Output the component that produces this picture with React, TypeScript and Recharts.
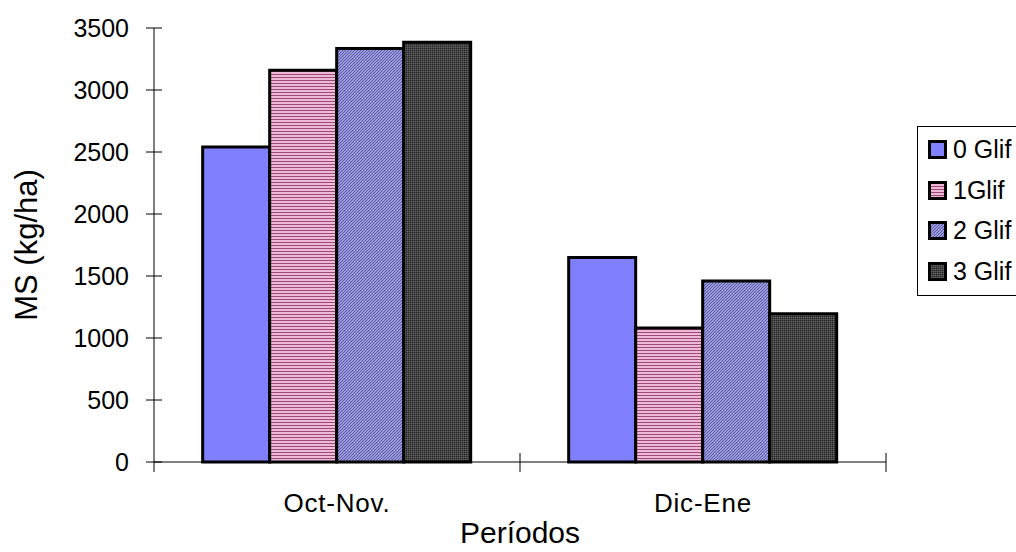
import React from "react";
import { BarChart, Bar, XAxis, YAxis } from "recharts";

const categories = ["Oct-Nov.", "Dic-Ene"];
const glif0 = [2540, 1650];
const glif1 = [3160, 1080];
const glif2 = [3335, 1460];
const glif3 = [3385, 1195];
const yTicks = [0, 500, 1000, 1500, 2000, 2500, 3000, 3500];
const seriesNames = ["0 Glif", "1Glif", "2 Glif", "3 Glif"];

const data = categories.map((c, i) => ({
  name: c,
  g0: glif0[i],
  g1: glif1[i],
  g2: glif2[i],
  g3: glif3[i],
}));

const fills = ["#8080FF", "url(#pStripe)", "url(#pDiag)", "url(#pDark)"];
const keys = ["g0", "g1", "g2", "g3"];

const FONT = "'Liberation Sans', Arial, sans-serif";
const W = 1016;
const H = 552;
const PLOT_LEFT = 154;
const PLOT_RIGHT = 886;
const PLOT_TOP = 28;
const PLOT_BOTTOM = 462;

const YTick = (props: any) => {
  const { y, payload } = props;
  const ax = PLOT_LEFT;
  return (
    <g>
      <line x1={ax - 8} x2={ax + 8} y1={y} y2={y} stroke="#000" strokeWidth={1} />
      <text x={ax - 25} y={y} dy={9} textAnchor="end" fontSize={25} fontFamily={FONT} fill="#000">
        {payload.value}
      </text>
    </g>
  );
};

const XTick = (props: any) => {
  const { x, payload, index } = props;
  const band = (PLOT_RIGHT - PLOT_LEFT) / categories.length;
  const axisY = PLOT_BOTTOM;
  return (
    <g>
      {index === 0 && (
        <line x1={x - band / 2} x2={x - band / 2} y1={axisY} y2={axisY + 10} stroke="#000" />
      )}
      <line x1={x + band / 2} x2={x + band / 2} y1={axisY - 9} y2={axisY + 10} stroke="#000" />
      <text
        x={x}
        y={axisY + 50}
        textAnchor="middle"
        fontSize={26}
        letterSpacing={0.8}
        fontFamily={FONT}
        fill="#000"
      >
        {payload.value}
      </text>
    </g>
  );
};

const XLabel = (props: any) => {
  const vb = props.viewBox || {};
  return (
    <text
      x={vb.x + vb.width / 2}
      y={543}
      textAnchor="middle"
      fontSize={30}
      fontFamily={FONT}
      fill="#000"
    >
      Períodos
    </text>
  );
};

const YLabel = (props: any) => {
  const vb = props.viewBox || {};
  const cx = 37;
  const cy = vb.y + vb.height / 2;
  return (
    <text
      x={cx}
      y={cy}
      transform={`rotate(-90, ${cx}, ${cy})`}
      textAnchor="middle"
      fontSize={31}
      fontFamily={FONT}
      fill="#000"
    >
      MS (kg/ha)
    </text>
  );
};

const LegendBox = () => (
  <div
    style={{
      position: "absolute",
      left: 917,
      top: 126,
      width: 130,
      height: 170,
      border: "1px solid #000",
      background: "#fff",
      boxSizing: "border-box",
      paddingTop: 2,
      paddingLeft: 10,
      fontFamily: FONT,
      fontSize: 25,
      color: "#000",
    }}
  >
    {seriesNames.map((n, i) => (
      <div key={n} style={{ display: "flex", alignItems: "center", height: 40.7 }}>
        <svg width={19} height={19} style={{ marginRight: 6, flexShrink: 0 }}>
          <rect x={1.5} y={1.5} width={16} height={16} fill={fills[i]} stroke="#000" strokeWidth={3} />
        </svg>
        <span style={{ whiteSpace: "nowrap" }}>{n}</span>
      </div>
    ))}
  </div>
);

export default function App() {
  return (
    <div style={{ position: "absolute", left: 0, top: 0, width: W, height: H, background: "#fff", overflow: "hidden" }}>
      <BarChart
        width={W}
        height={H}
        data={data}
        margin={{ top: PLOT_TOP, right: W - PLOT_RIGHT, bottom: 0, left: 0 }}
        barCategoryGap="13.3%"
        barGap={0}
      >
        <defs>
          <pattern id="pStripe" width="4" height="3" patternUnits="userSpaceOnUse">
            <rect width="4" height="3" fill="#EEB8D6" />
            <rect y="2" width="4" height="1" fill="#9A4A78" />
          </pattern>
          <pattern id="pDiag" width="3" height="3" patternUnits="userSpaceOnUse">
            <rect width="3" height="3" fill="#9898DA" />
            <path d="M0,3 L3,0" stroke="#5C5CA8" strokeWidth="1" />
          </pattern>
          <pattern id="pDark" width="2" height="2" patternUnits="userSpaceOnUse">
            <rect width="2" height="2" fill="#474747" />
            <rect width="1" height="1" fill="#222" />
            <rect x="1" y="1" width="1" height="1" fill="#606060" />
          </pattern>
        </defs>
        <XAxis
          dataKey="name"
          height={H - PLOT_BOTTOM}
          tick={<XTick />}
          tickLine={false}
          axisLine={{ stroke: "#000" }}
          label={<XLabel />}
        />
        <YAxis
          domain={[0, 3500]}
          ticks={yTicks}
          interval={0}
          width={PLOT_LEFT}
          tick={<YTick />}
          tickLine={false}
          axisLine={{ stroke: "#000" }}
          label={<YLabel />}
        />
        {keys.map((k, i) => (
          <Bar
            key={k}
            dataKey={k}
            name={seriesNames[i]}
            fill={fills[i]}
            stroke="#000"
            strokeWidth={3}
            isAnimationActive={false}
          />
        ))}
      </BarChart>
      <LegendBox />
    </div>
  );
}
